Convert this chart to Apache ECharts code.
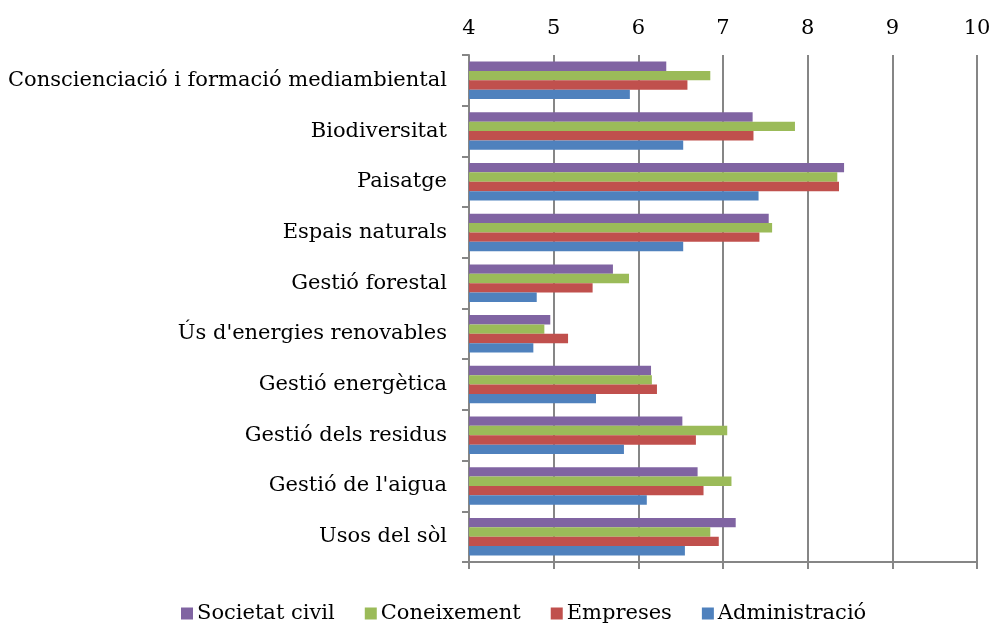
<!DOCTYPE html>
<html>
<head>
<meta charset="utf-8">
<script src="https://cdn.jsdelivr.net/npm/echarts@6/dist/echarts.min.js"></script>
<style>
html,body{margin:0;padding:0;background:#fff;}
#main{width:994px;height:624px;}
</style>
</head>
<body>
<div id="main"></div>
<script>
// categories, top to bottom
var categories = [
  'Conscienciació i formació mediambiental',
  'Biodiversitat',
  'Paisatge',
  'Espais naturals',
  'Gestió forestal',
  "Ús d'energies renovables",
  'Gestió energètica',
  'Gestió dels residus',
  "Gestió de l'aigua",
  'Usos del sòl'
]
var seriesNames = ['Societat civil', 'Coneixement', 'Empreses', 'Administració']
var societatCivil = [6.33, 7.35, 8.43, 7.54, 5.70, 4.96, 6.15, 6.52, 6.70, 7.15]
var coneixement   = [6.85, 7.85, 8.35, 7.58, 5.89, 4.89, 6.16, 7.05, 7.10, 6.85]
var empreses      = [6.58, 7.36, 8.37, 7.43, 5.46, 5.17, 6.22, 6.68, 6.77, 6.95]
var administracio = [5.90, 6.53, 7.42, 6.53, 4.80, 4.76, 5.50, 5.83, 6.10, 6.55]
var colors = ['#8064A2', '#9BBB59', '#C0504D', '#4F81BD']

var font = '"DejaVu Serif", "Liberation Serif", serif'
var allData = [societatCivil, coneixement, empreses, administracio]

var myChart = echarts.init(document.getElementById('main'))
var option = {
  animation: false,
  textStyle: { fontFamily: font },
  legend: {
    bottom: -5,
    left: 176,
    itemWidth: 12,
    itemHeight: 12,
    itemGap: 30,
    icon: 'rect',
    data: seriesNames,
    textStyle: { fontFamily: font, fontSize: 21, color: '#000', padding: [0, 0, 0, -1] }
  },
  grid: { left: 469, right: 17, top: 55, bottom: 62 },
  xAxis: [
    {
      type: 'value',
      position: 'bottom',
      min: 4, max: 10, interval: 1,
      axisLine: { show: true, lineStyle: { color: '#868686', width: 2 } },
      axisTick: { show: true, length: 7, lineStyle: { color: '#868686', width: 2 } },
      axisLabel: { show: false },
      splitLine: { show: true, lineStyle: { color: '#868686', width: 2 } }
    },
    {
      type: 'value',
      position: 'top',
      min: 4, max: 10, interval: 1,
      axisLine: { show: false },
      axisTick: { show: false },
      splitLine: { show: false },
      axisLabel: { margin: 16, fontFamily: font, fontSize: 21, color: '#000' }
    }
  ],
  yAxis: {
    type: 'category',
    inverse: true,
    data: categories,
    axisLine: { show: true, lineStyle: { color: '#868686', width: 2 } },
    axisTick: { show: true, length: 7, lineStyle: { color: '#868686', width: 2 } },
    axisLabel: { margin: 22, fontFamily: font, fontSize: 21, color: '#000' }
  },
  series: seriesNames.map(function (name, i) {
    return {
      name: name,
      type: 'bar',
      xAxisIndex: 0,
      data: allData[i],
      barGap: '0%',
      barCategoryGap: '26%',
      itemStyle: { color: colors[i] }
    }
  })
}
myChart.setOption(option)
</script>
</body>
</html>
